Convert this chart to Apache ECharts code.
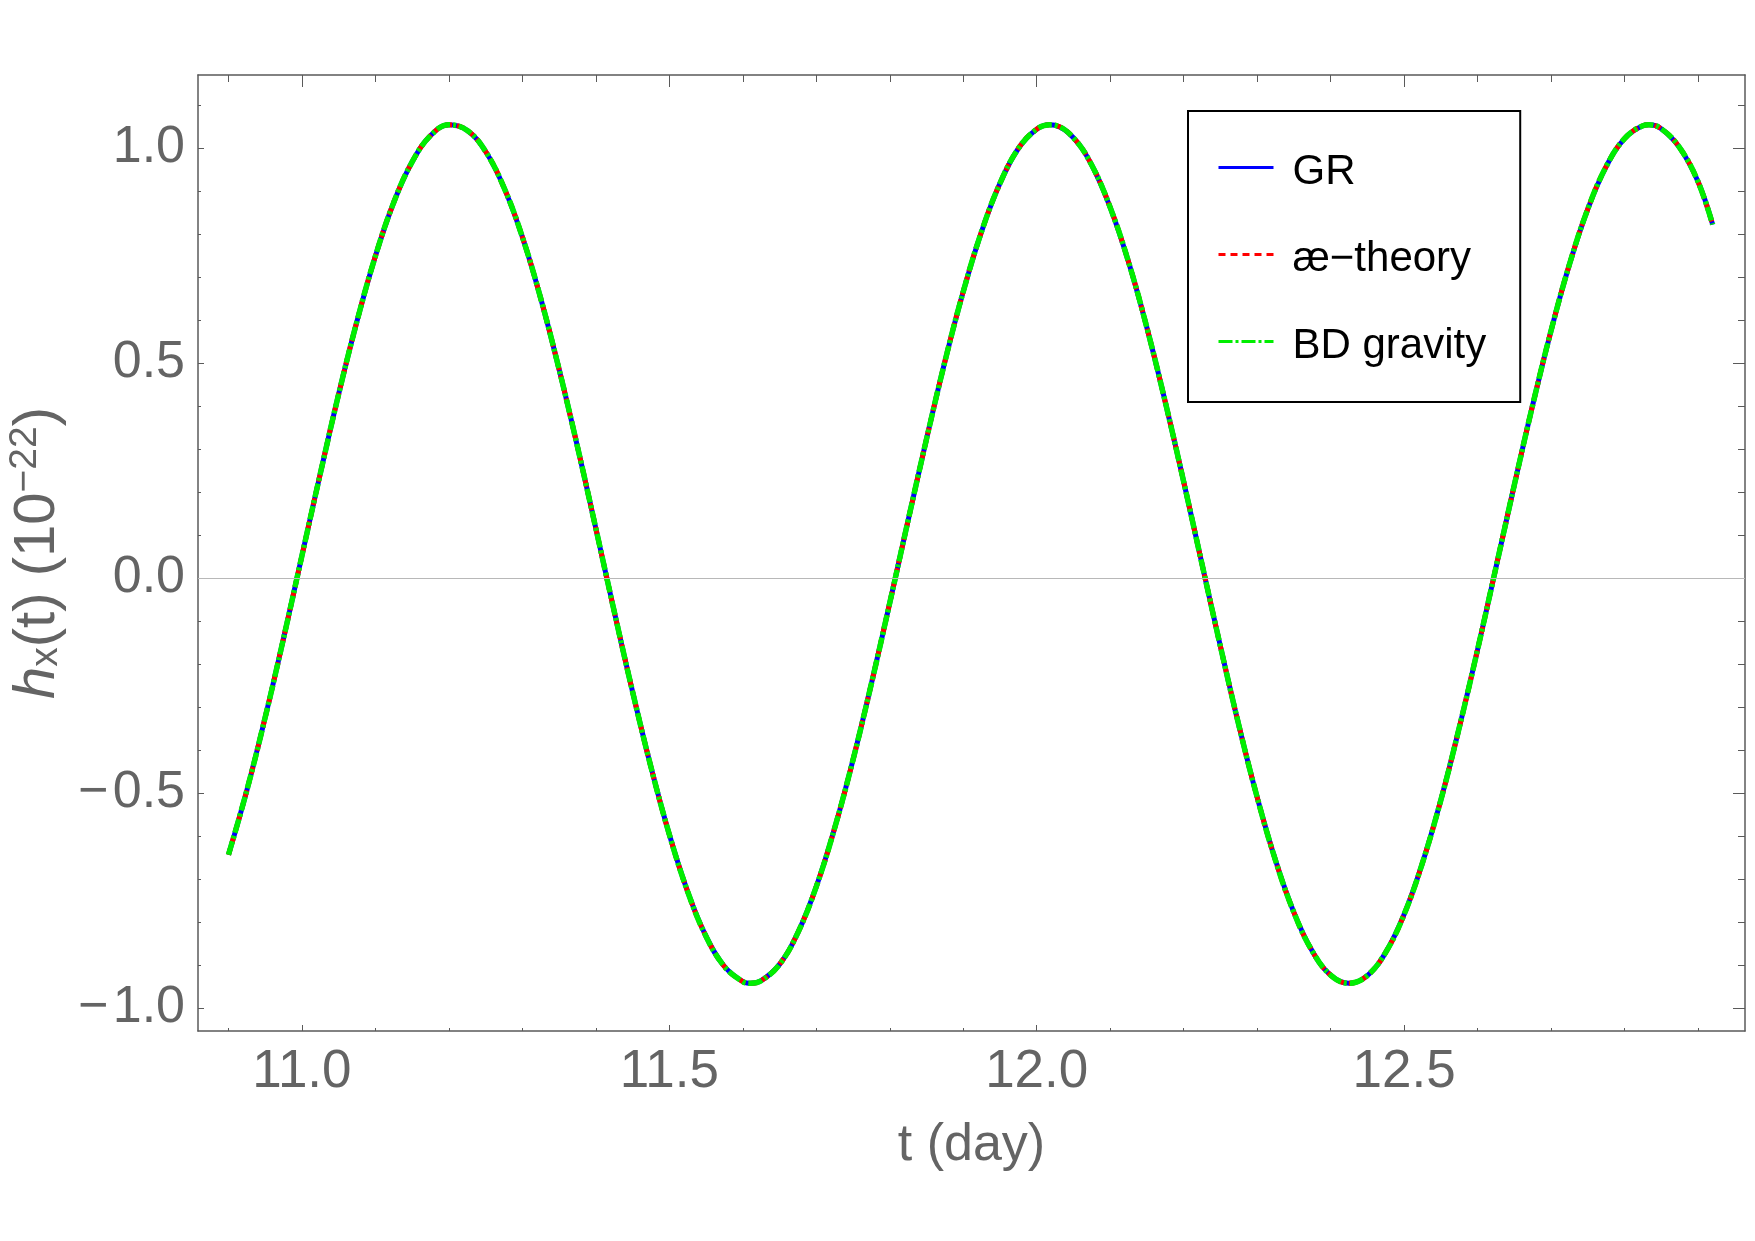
<!DOCTYPE html>
<html>
<head>
<meta charset="utf-8">
<script src="https://cdn.jsdelivr.net/npm/echarts@6/dist/echarts.min.js"></script>
<style>html,body{margin:0;padding:0;background:#fff}#c{width:1755px;height:1241px}</style>
</head>
<body>
<div id="c"></div>
<script>
// time (day)
const tDays = [10.900,10.925,10.950,10.975,11.000,11.025,11.050,11.075,11.100,11.125,
  11.150,11.175,11.200,11.225,11.250,11.275,11.300,11.325,11.350,11.375,
  11.400,11.425,11.450,11.475,11.500,11.525,11.550,11.575,11.600,11.611,11.625,
  11.650,11.675,11.700,11.725,11.750,11.775,11.800,11.825,11.850,11.875,
  11.900,11.925,11.950,11.975,12.000,12.018,12.025,12.050,12.075,12.100,12.125,
  12.150,12.175,12.200,12.225,12.250,12.275,12.300,12.325,12.350,12.375,
  12.400,12.425,12.450,12.475,12.500,12.525,12.550,12.575,12.600,12.625,
  12.650,12.675,12.700,12.725,12.750,12.775,12.800,12.825,12.833,12.850,12.875,
  12.900,12.920];
// h_x(t) in units of 1e-22 (the three curves coincide)
const hGR = [-0.644,-0.494,-0.324,-0.140,0.052,0.243,0.428,0.598,0.749,0.874,
  0.968,1.029,1.054,1.041,0.992,0.908,0.793,0.650,0.485,0.305,
  0.115,-0.078,-0.265,-0.440,-0.597,-0.730,-0.834,-0.904,-0.939,-0.943,-0.937,
  -0.899,-0.825,-0.718,-0.582,-0.423,-0.246,-0.058,0.134,0.323,0.503,
  0.666,0.806,0.918,0.999,1.044,1.054,1.053,1.024,0.960,0.862,0.735,
  0.582,0.409,0.224,0.032,-0.159,-0.342,-0.510,-0.657,-0.778,-0.868,
  -0.924,-0.943,-0.925,-0.871,-0.783,-0.663,-0.517,-0.349,-0.167,0.024,
  0.216,0.402,0.575,0.729,0.858,0.957,1.022,1.052,1.054,1.045,1.001,
  0.922,0.822];
const hAE = [-0.644,-0.494,-0.324,-0.140,0.052,0.243,0.428,0.598,0.749,0.874,
  0.968,1.029,1.054,1.041,0.992,0.908,0.793,0.650,0.485,0.305,
  0.115,-0.078,-0.265,-0.440,-0.597,-0.730,-0.834,-0.904,-0.939,-0.943,-0.937,
  -0.899,-0.825,-0.718,-0.582,-0.423,-0.246,-0.058,0.134,0.323,0.503,
  0.666,0.806,0.918,0.999,1.044,1.054,1.053,1.024,0.960,0.862,0.735,
  0.582,0.409,0.224,0.032,-0.159,-0.342,-0.510,-0.657,-0.778,-0.868,
  -0.924,-0.943,-0.925,-0.871,-0.783,-0.663,-0.517,-0.349,-0.167,0.024,
  0.216,0.402,0.575,0.729,0.858,0.957,1.022,1.052,1.054,1.045,1.001,
  0.922,0.822];
const hBD = [-0.644,-0.494,-0.324,-0.140,0.052,0.243,0.428,0.598,0.749,0.874,
  0.968,1.029,1.054,1.041,0.992,0.908,0.793,0.650,0.485,0.305,
  0.115,-0.078,-0.265,-0.440,-0.597,-0.730,-0.834,-0.904,-0.939,-0.943,-0.937,
  -0.899,-0.825,-0.718,-0.582,-0.423,-0.246,-0.058,0.134,0.323,0.503,
  0.666,0.806,0.918,0.999,1.044,1.054,1.053,1.024,0.960,0.862,0.735,
  0.582,0.409,0.224,0.032,-0.159,-0.342,-0.510,-0.657,-0.778,-0.868,
  -0.924,-0.943,-0.925,-0.871,-0.783,-0.663,-0.517,-0.349,-0.167,0.024,
  0.216,0.402,0.575,0.729,0.858,0.957,1.022,1.052,1.054,1.045,1.001,
  0.922,0.822];
const seriesNames = ['GR', 'æ−theory', 'BD gravity'];
const xMajorTicks = [11.0, 11.5, 12.0, 12.5];
const xMinorTicks = [10.9,11.0,11.1,11.2,11.3,11.4,11.5,11.6,11.7,11.8,11.9,12.0,12.1,12.2,12.3,12.4,12.5,12.6,12.7,12.8,12.9];
const yMajorTicks = [-1.0, -0.5, 0.0, 0.5, 1.0];
const yMinorTicks = [-1.0,-0.9,-0.8,-0.7,-0.6,-0.5,-0.4,-0.3,-0.2,-0.1,0.0,0.1,0.2,0.3,0.4,0.5,0.6,0.7,0.8,0.9,1.0,1.1];
const xRange = [10.8585, 12.964];
const yRange = [-1.054, 1.17];

const pair = (xs, ys) => xs.map((x, i) => [x, ys[i]]);
const fmt = v => v.toFixed(1).replace('-', '\u2212\u200A');
const gray = '#646464';
const frame = '#5a5a5a';
const FONT = '"Liberation Sans", Arial, sans-serif';

function xAx(gridIndex, position, ticks, len, labels) {
  return {
    type: 'value', gridIndex, position, min: xRange[0], max: xRange[1],
    axisLine: { show: gridIndex === 0, onZero: false, lineStyle: { color: frame, width: 1.5 } },
    axisTick: { show: true, inside: true, length: len, customValues: ticks, lineStyle: { color: frame, width: 1 } },
    axisLabel: labels ? { show: true, customValues: xMajorTicks, formatter: fmt, color: gray, fontSize: 53, fontFamily: FONT, margin: 15 } : { show: false },
    splitLine: { show: false }
  };
}
function yAx(gridIndex, position, ticks, len, labels) {
  return {
    type: 'value', gridIndex, position, min: yRange[0], max: yRange[1],
    axisLine: { show: gridIndex === 0, onZero: false, lineStyle: { color: frame, width: 1.5 } },
    axisTick: { show: true, inside: true, length: len, customValues: ticks, lineStyle: { color: frame, width: 1 } },
    axisLabel: labels ? { show: true, customValues: yMajorTicks, formatter: fmt, color: gray, fontSize: 52, fontFamily: FONT, margin: 13 } : { show: false },
    splitLine: { show: false }
  };
}

const chart = echarts.init(document.getElementById('c'), null, { renderer: 'canvas' });
const gridBox = { left: 198, right: 10, top: 75, bottom: 210, containLabel: false, outerBoundsMode: 'none' };

const xAxes = [
  Object.assign(xAx(0, 'bottom', xMajorTicks, 6, true), {
    name: 't (day)', nameLocation: 'middle', nameGap: 89,
    nameTextStyle: { color: gray, fontSize: 52, fontFamily: FONT }
  }),
  xAx(0, 'top', xMajorTicks, 12, false),
  xAx(1, 'bottom', xMinorTicks, 3, false),
  xAx(1, 'top', xMinorTicks, 7, false)
];
const yAxes = [
  Object.assign(yAx(0, 'left', yMajorTicks, 6, true), {
    name: '{i|h}{sub|x}(t) (10{sup|\u221222})', nameLocation: 'middle', nameGap: 128, nameRotate: 90,
    nameTextStyle: {
      color: gray, fontSize: 58, fontFamily: FONT,
      rich: {
        i: { fontStyle: 'italic', fontSize: 58, color: gray, fontFamily: FONT },
        sub: { fontSize: 39, color: gray, fontFamily: FONT, padding: [17, 0, 0, 0] },
        sup: { fontSize: 39, color: gray, fontFamily: FONT, padding: [0, 0, 25, 0] }
      }
    }
  }),
  yAx(0, 'right', yMajorTicks, 12, false),
  yAx(1, 'left', yMinorTicks, 3, false),
  yAx(1, 'right', yMinorTicks, 7, false)
];

chart.setOption({
  backgroundColor: '#ffffff',
  animation: false,
  grid: [Object.assign({}, gridBox), Object.assign({}, gridBox)],
  xAxis: xAxes,
  yAxis: yAxes,
  legend: {
    data: seriesNames,
    orient: 'vertical',
    left: 1188, top: 111,
    padding: [31, 34, 35, 29],
    itemGap: 36,
    itemWidth: 55,
    itemHeight: 14,
    backgroundColor: '#ffffff',
    borderColor: '#000000',
    borderWidth: 2,
    borderRadius: 0,
    itemStyle: { opacity: 0, borderWidth: 0 },
    lineStyle: { width: 3 },
    formatter: name => '{a|' + name + '}',
    textStyle: {
      color: '#000', fontSize: 42, fontFamily: FONT,
      rich: { a: { color: '#000', fontSize: 42, fontFamily: FONT, lineHeight: 44, padding: [9, 0, 0, 14] } }
    }
  },
  series: [
    {
      type: 'line', data: [], xAxisIndex: 0, yAxisIndex: 0, z: 1, silent: true,
      markLine: {
        silent: true, symbol: ['none', 'none'], label: { show: false },
        lineStyle: { color: '#b8b8b8', width: 1.2, type: 'solid' },
        data: [{ yAxis: 0 }]
      }
    },
    {
      name: seriesNames[0], type: 'line', data: pair(tDays, hGR), xAxisIndex: 0, yAxisIndex: 0,
      smooth: 0.4, symbol: 'none', z: 2,
      lineStyle: { color: '#0000ff', width: 5 }, itemStyle: { color: '#0000ff' }
    },
    {
      name: seriesNames[1], type: 'line', data: pair(tDays, hAE), xAxisIndex: 0, yAxisIndex: 0,
      smooth: 0.4, symbol: 'none', z: 3,
      lineStyle: { color: '#ff0000', width: 5, type: [7, 5] }, itemStyle: { color: '#ff0000' }
    },
    {
      name: seriesNames[2], type: 'line', data: pair(tDays, hBD), xAxisIndex: 0, yAxisIndex: 0,
      smooth: 0.4, symbol: 'none', z: 4,
      lineStyle: { color: '#00ee00', width: 5.5, type: [14, 3, 3, 3] }, itemStyle: { color: '#00ee00' }
    }
  ]
});
</script>
</body>
</html>
